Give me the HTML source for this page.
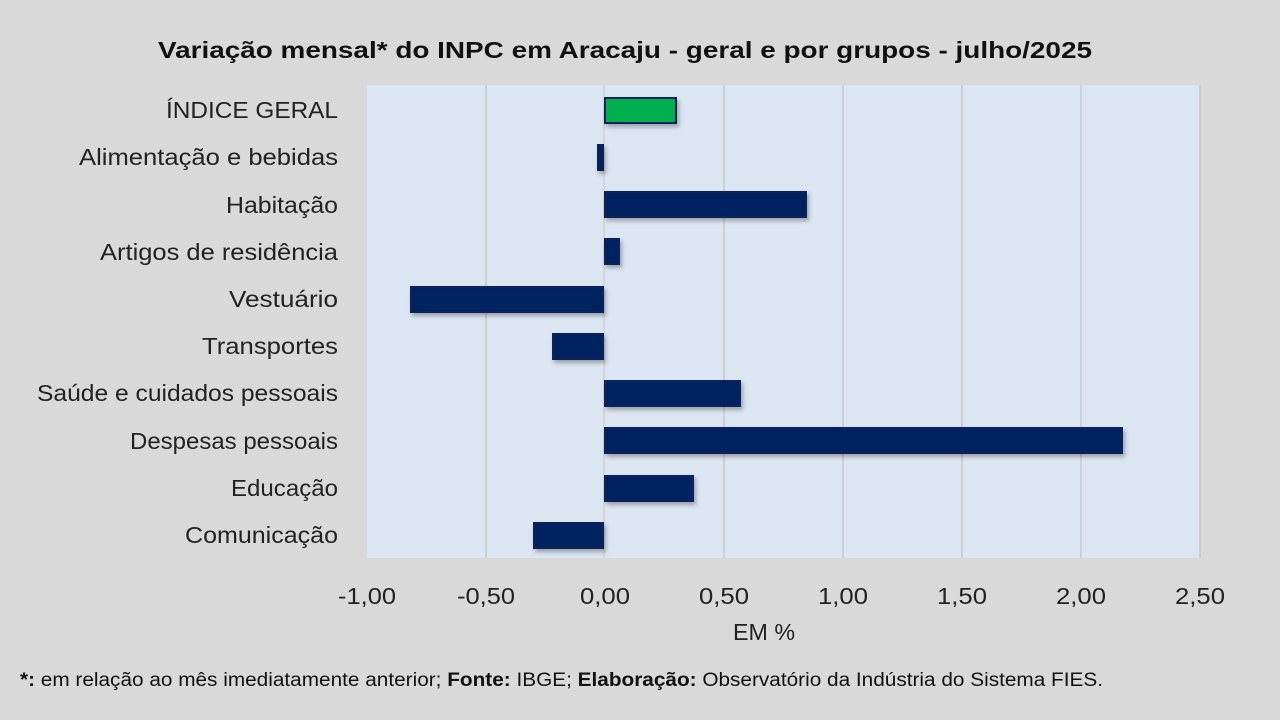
<!DOCTYPE html>
<html><head><meta charset="utf-8"><style>
html,body{margin:0;padding:0;background:#d9d9d9;}
svg{display:block;font-family:"Liberation Sans",sans-serif;}
</style></head><body>
<svg width="1280" height="720" viewBox="0 0 1280 720">
<defs><filter id="sh" x="-10%" y="-30%" width="130%" height="180%"><feDropShadow dx="2" dy="3" stdDeviation="2" flood-color="#000" flood-opacity="0.3"/></filter></defs>
<rect width="1280" height="720" fill="#d9d9d9"/>
<text x="625" y="58" text-anchor="middle" font-size="23" font-weight="bold" fill="#111" textLength="934" lengthAdjust="spacingAndGlyphs">Variação  mensal*  do INPC em Aracaju  - geral e por grupos  - julho/2025</text>
<rect x="367" y="85" width="833" height="473" fill="#dce6f2"/>
<g stroke="#c8c8c8" stroke-width="1.5">
<line x1="486" y1="85" x2="486" y2="558"/><line x1="724" y1="85" x2="724" y2="558"/><line x1="843" y1="85" x2="843" y2="558"/><line x1="962" y1="85" x2="962" y2="558"/><line x1="1081" y1="85" x2="1081" y2="558"/><line x1="1200" y1="85" x2="1200" y2="558"/>
</g>
<line x1="604" y1="85" x2="604" y2="558" stroke="#d0d0d0" stroke-width="1.5"/>
<g filter="url(#sh)" stroke="#0d2358" stroke-width="2">
<rect x="605" y="98" width="71" height="25" fill="#00b050"/>
<rect x="598" y="145" width="5" height="25" fill="#002060"/>
<rect x="605" y="192" width="201" height="25" fill="#002060"/>
<rect x="605" y="239" width="14" height="25" fill="#002060"/>
<rect x="411" y="287" width="192" height="25" fill="#002060"/>
<rect x="553" y="334" width="50" height="25" fill="#002060"/>
<rect x="605" y="381" width="135" height="25" fill="#002060"/>
<rect x="605" y="428" width="517" height="25" fill="#002060"/>
<rect x="605" y="476" width="88" height="25" fill="#002060"/>
<rect x="534" y="523" width="69" height="25" fill="#002060"/>
</g>
<g font-size="23" fill="#222">
<text x="166" y="118" textLength="172" lengthAdjust="spacingAndGlyphs">ÍNDICE GERAL</text>
<text x="79" y="165" textLength="259" lengthAdjust="spacingAndGlyphs">Alimentação e bebidas</text>
<text x="226" y="213" textLength="112" lengthAdjust="spacingAndGlyphs">Habitação</text>
<text x="100" y="260" textLength="238" lengthAdjust="spacingAndGlyphs">Artigos de residência</text>
<text x="229" y="307" textLength="109" lengthAdjust="spacingAndGlyphs">Vestuário</text>
<text x="202" y="354" textLength="136" lengthAdjust="spacingAndGlyphs">Transportes</text>
<text x="37" y="401" textLength="301" lengthAdjust="spacingAndGlyphs">Saúde e cuidados pessoais</text>
<text x="130" y="449" textLength="208" lengthAdjust="spacingAndGlyphs">Despesas pessoais</text>
<text x="231" y="496" textLength="107" lengthAdjust="spacingAndGlyphs">Educação</text>
<text x="185" y="543" textLength="153" lengthAdjust="spacingAndGlyphs">Comunicação</text>
</g>
<g font-size="23" fill="#222" text-anchor="middle">
<text x="367" y="604" textLength="58" lengthAdjust="spacingAndGlyphs">-1,00</text><text x="486" y="604" textLength="58" lengthAdjust="spacingAndGlyphs">-0,50</text><text x="605" y="604" textLength="50" lengthAdjust="spacingAndGlyphs">0,00</text><text x="724" y="604" textLength="50" lengthAdjust="spacingAndGlyphs">0,50</text><text x="843" y="604" textLength="50" lengthAdjust="spacingAndGlyphs">1,00</text><text x="962" y="604" textLength="50" lengthAdjust="spacingAndGlyphs">1,50</text><text x="1081" y="604" textLength="50" lengthAdjust="spacingAndGlyphs">2,00</text><text x="1200" y="604" textLength="50" lengthAdjust="spacingAndGlyphs">2,50</text>
<text x="764" y="640" textLength="62" lengthAdjust="spacingAndGlyphs">EM %</text>
</g>
<text x="20" y="686" font-size="19" fill="#111" textLength="1083" lengthAdjust="spacingAndGlyphs"><tspan font-weight="bold">*:</tspan> em relação ao mês imediatamente  anterior; <tspan font-weight="bold">Fonte:</tspan> IBGE; <tspan font-weight="bold">Elaboração:</tspan> Observatório da Indústria do Sistema FIES.</text>
</svg>
</body></html>
